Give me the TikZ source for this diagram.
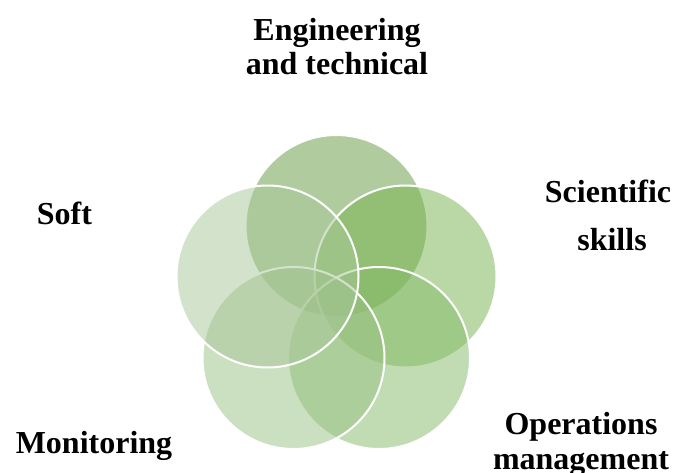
\documentclass[tikz,border=0pt]{standalone}
\usepackage{fontspec}
\setmainfont{Liberation Serif}
\definecolor{cTop}{RGB}{99,155,65}
\definecolor{cRight}{RGB}{119,179,77}
\definecolor{cBR}{RGB}{133,187,105}
\definecolor{cBL}{RGB}{153,193,133}
\definecolor{cLeft}{RGB}{169,199,153}
\begin{document}
\begin{tikzpicture}[x=0.75pt,y=-0.75pt,
  venn/.style={circle, draw=white, line width=1.5pt, fill opacity=0.5, draw opacity=1,
    minimum size=136.5pt, inner sep=0pt},
  lbl/.style={font=\bfseries\fontsize{24}{26}\selectfont, align=center, inner sep=0pt, anchor=base}]
\useasboundingbox (0,0) rectangle (673,473);
\fill[white] (0,0) rectangle (673,473);
\node[venn, fill=cTop]   (ctop)   at (336.5,226) {};
\node[venn, fill=cRight] (cright) at (405.5,276.5) {};
\node[venn, fill=cBR]    (cbr)    at (379,358) {};
\node[venn, fill=cBL]    (cbl)    at (293.5,358) {};
\node[venn, fill=cLeft]  (cleft)  at (267.5,276.5) {};
\node[lbl] (eng)  at (337,75)  {Engineering\\and technical};
\node[lbl] (sci)  at (608,251) {Scientific\\[10pt]\hspace*{6pt}skills};
\node[lbl] (soft) at (64.5,225) {Soft};
\node[lbl] (mon)  at (94,453)  {Monitoring};
\node[lbl] (ops)  at (581,469) {Operations\\management};
\end{tikzpicture}
\end{document}
